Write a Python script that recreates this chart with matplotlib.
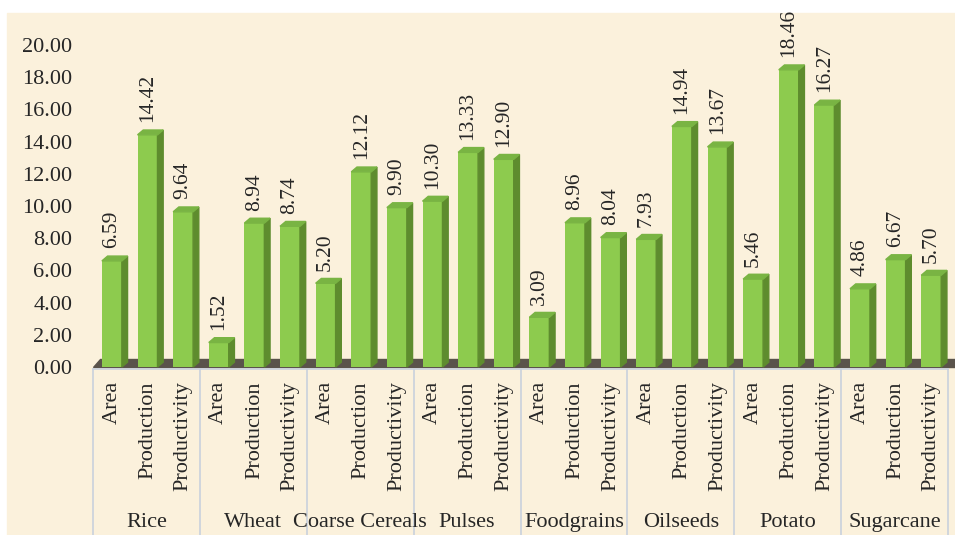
import matplotlib.pyplot as plt
from matplotlib.patches import Polygon, Rectangle
import numpy as np

crops = ["Rice", "Wheat", "Coarse Cereals", "Pulses", "Foodgrains",
         "Oilseeds", "Potato", "Sugarcane"]
measures = ["Area", "Production", "Productivity"]
area = [6.59, 1.52, 5.20, 10.30, 3.09, 7.93, 5.46, 4.86]
production = [14.42, 8.94, 12.12, 13.33, 8.96, 14.94, 18.46, 6.67]
productivity = [9.64, 8.74, 9.90, 12.90, 8.04, 13.67, 16.27, 5.70]
yticks = np.arange(0, 20.01, 2)

plt.rcParams['font.family'] = ['Liberation Serif', 'DejaVu Serif']
txt = '#262626'
front, side, top = '#8DCB4E', '#5E8C2E', '#79B443'

fig = plt.figure(figsize=(9.55, 5.35), dpi=100, facecolor='white')
# parchment-like panel
fig.patches.append(Rectangle((7 / 955, 0), 1, (535 - 13) / 535,
                             transform=fig.transFigure, color='#FBF1DC', zorder=-5))

ax = fig.add_axes([93 / 955, (535 - 367) / 535, 855 / 955, (367 - 45) / 535])
ax.patch.set_visible(False)
ax.set_xlim(0, 24)
ax.set_ylim(0, 20)
for s in ax.spines.values():
    s.set_visible(False)
ax.set_xticks([])
ax.set_yticks(yticks)
ax.set_yticklabels([f"{v:.2f}" for v in yticks], fontsize=16, color=txt)
ax.tick_params(axis='y', length=0, pad=15)

# 3D floor
fx, fy = 0.2, 0.5
ax.add_patch(Polygon([(0, 0), (24 + fx, 0), (24 + fx, fy), (fx, fy)],
                     closed=True, color='#5A534B', zorder=1, clip_on=False))

w, dx, dy = 0.56, 0.16, 0.3
for g in range(len(crops)):
    vals = [area[g], production[g], productivity[g]]
    for k, v in enumerate(vals):
        l = 3 * g + k + 0.25
        ax.bar(l, v, width=w, align='edge', color=front, zorder=3)
        ax.add_patch(Polygon([(l + w, 0), (l + w + dx, dy), (l + w + dx, v + dy), (l + w, v)],
                             closed=True, color=side, zorder=3, clip_on=False))
        ax.add_patch(Polygon([(l, v), (l + dx, v + dy), (l + w + dx, v + dy), (l + w, v)],
                             closed=True, color=top, zorder=3, clip_on=False))
        ax.text(l + w / 2, v + 0.78, f"{v:.2f}", rotation=90, ha='center', va='bottom',
                fontsize=15.5, color=txt)
        ax.text(l + w / 2, -0.87, measures[k], rotation=90, ha='center', va='top',
                fontsize=16, color=txt)
    ax.text(3 * g + 1.5, -9.65, crops[g], ha='center', va='center', fontsize=16, color=txt)

# category axis grid lines
sep = '#C9D1DC'
ax.plot([0, 24], [-0.15, -0.15], color=sep, lw=1.2, clip_on=False, zorder=2)
for g in range(len(crops) + 1):
    ax.plot([3 * g, 3 * g], [-0.15, -10.6], color=sep, lw=1.2, clip_on=False, zorder=2)

fig.savefig('out.png', dpi=100, facecolor=fig.get_facecolor())
